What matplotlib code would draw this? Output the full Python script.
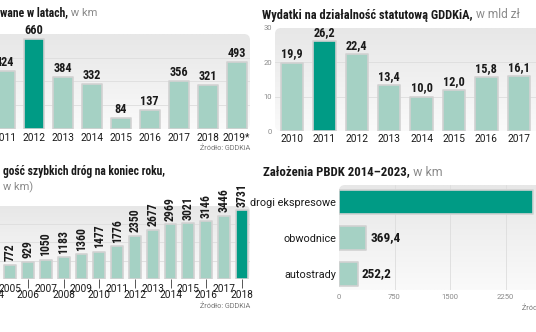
import numpy as np
import matplotlib
matplotlib.use('Agg')
import matplotlib.pyplot as plt
from matplotlib import font_manager as fm
from matplotlib.patches import FancyBboxPatch
from matplotlib.colors import LinearSegmentedColormap

# ---------------- data ----------------
p1_years = ['2011', '2012', '2013', '2014', '2015', '2016', '2017', '2018', '2019*']
p1_values = [424, 660, 384, 332, 84, 137, 356, 321, 493]
p1_highlight = '2012'

p2_years = ['2010', '2011', '2012', '2013', '2014', '2015', '2016', '2017']
p2_values = [19.9, 26.2, 22.4, 13.4, 10.0, 12.0, 15.8, 16.1]
p2_highlight = '2011'

p3_years = ['2004', '2005', '2006', '2007', '2008', '2009', '2010', '2011',
            '2012', '2013', '2014', '2015', '2016', '2017', '2018']
p3_values = [700, 772, 929, 1050, 1183, 1360, 1477, 1776, 2350, 2677, 2969,
             3021, 3146, 3446, 3731]
p3_highlight = '2018'

p4_categories = ['drogi ekspresowe', 'obwodnice', 'autostrady']
p4_values = [2618, 369.4, 252.2]
p4_highlight = 'drogi ekspresowe'
p4_ticks = [0, 750, 1500, 2250]

# ---------------- style ----------------
DARK = '#009B85'
LIGHT = '#A5D1C4'
BORDER = '#D2D2D2'
GRID = '#DDDDDD'
GREY_TXT = '#8A8A8A'
TXT = '#1A1A1A'

available = {f.name for f in fm.fontManager.ttflist}


def pick(*names):
    for n in names:
        if n in available:
            return n
    return 'DejaVu Sans'


NARROW = pick('Roboto Condensed', 'Liberation Sans Narrow', 'Open Sans Condensed',
              'DejaVu Sans Condensed', 'DejaVu Sans')
REG = pick('Roboto', 'Lato', 'Open Sans', 'DejaVu Sans')

W, H = 536, 332
fig = plt.figure(figsize=(W / 100, H / 100), dpi=100)
fig.patch.set_facecolor('white')


def add_ax(l, t, r, b):
    return fig.add_axes([l / W, 1 - b / H, (r - l) / W, (b - t) / H])


def background(ax, l, t, r, b, radius=6):
    wpx, hpx = r - l, b - t
    cmap = LinearSegmentedColormap.from_list('bg', ['#E7E7E7', '#FAFAFA'])
    grad = np.linspace(0, 1, 64).reshape(-1, 1)
    im = ax.imshow(grad, extent=[0, 1, 0, 1], transform=ax.transAxes, cmap=cmap,
                   aspect='auto', origin='upper', zorder=0, interpolation='bilinear')
    patch = FancyBboxPatch((0, 0), 1, 1,
                           boxstyle=f'round,pad=0,rounding_size={radius / wpx}',
                           mutation_aspect=wpx / hpx, transform=ax.transAxes,
                           fc='none', ec='none')
    ax.add_patch(patch)
    im.set_clip_path(patch)


def clean(ax):
    ax.patch.set_visible(False)
    for s in ax.spines.values():
        s.set_visible(False)


def px2fig(x, y):
    return x / W, 1 - y / H


def title(x, y, bold, reg, size=8.2):
    fx, fy = px2fig(x, y)
    t = fig.text(fx, fy, bold, fontsize=size, fontweight='bold', family=NARROW,
                 fontstretch='condensed', color=TXT, va='center', ha='left')
    if reg:
        r = fig.canvas.get_renderer()
        bb = t.get_window_extent(renderer=r)
        fig.text(bb.x1 / W, fy, reg, fontsize=size - 0.3, family=REG,
                 color=GREY_TXT, va='center', ha='left')


def source(x, y, ha='right'):
    fx, fy = px2fig(x, y)
    fig.text(fx, fy, 'Źródło: GDDKiA', fontsize=5.2, family=REG, color='#777777',
             ha=ha, va='center')


YEAR_SIZE = 7.3

# ---------------- panel 1 ----------------
l, t, r, b = -25, 34, 250, 129
ax1 = add_ax(l, t, r, b)
clean(ax1)
background(ax1, l, t, r, b)
x0, dx = 4.7, 29.0
x1 = np.arange(len(p1_years))
c1 = [DARK if y == p1_highlight else LIGHT for y in p1_years]
ax1.bar(x1, p1_values, width=0.7, color=c1, edgecolor=BORDER, linewidth=1.2,
        joinstyle='round', zorder=3)
for v in [175, 350, 525]:
    ax1.axhline(v, color=GRID, lw=0.6, zorder=1)
for xi, v in zip(x1, p1_values):
    ax1.annotate(f'{v}', (xi, v), xytext=(0, 1.5), textcoords='offset points',
                 ha='center', va='bottom', fontsize=8.8, fontweight='bold',
                 family=NARROW, fontstretch='condensed', color=TXT, zorder=4)
ax1.set_xticks(x1, p1_years)
ax1.set_yticks([])
ax1.tick_params(axis='x', length=0, pad=3, labelsize=YEAR_SIZE, labelcolor=TXT)
for lab in ax1.get_xticklabels():
    lab.set_family(REG)
ax1.set_xlim((l - x0) / dx, (r - x0) / dx)
ax1.set_ylim(0, 700)
title(0.5, 13, 'wane w latach,', ' w km', size=8.4)
source(250, 149)

# ---------------- panel 2 ----------------
l, t, r, b = 275, 28, 545, 131
ax2 = add_ax(l, t, r, b)
clean(ax2)
background(ax2, l, t, r, b)
x0, dx = 292.0, 32.4
x2 = np.arange(len(p2_years))
c2 = [DARK if y == p2_highlight else LIGHT for y in p2_years]
ax2.bar(x2, p2_values, width=0.69, color=c2, edgecolor=BORDER, linewidth=1.2,
        joinstyle='round', zorder=3)
for v in [10, 20]:
    ax2.axhline(v, color=GRID, lw=0.6, zorder=1)
for xi, v in zip(x2, p2_values):
    ax2.annotate(f'{v:.1f}'.replace('.', ','), (xi, v), xytext=(0, 1.5),
                 textcoords='offset points', ha='center', va='bottom', fontsize=8.8,
                 fontweight='bold', family=NARROW, fontstretch='condensed',
                 color=TXT, zorder=4)
ax2.set_xticks(x2, p2_years)
ax2.set_yticks([0, 10, 20, 30])
ax2.tick_params(axis='x', length=0, pad=2.5, labelsize=YEAR_SIZE, labelcolor=TXT)
ax2.tick_params(axis='y', length=0, pad=2, labelsize=5.5, labelcolor=GREY_TXT)
for lab in ax2.get_xticklabels() + ax2.get_yticklabels():
    lab.set_family(REG)
ax2.set_xlim((l - x0) / dx, (r - x0) / dx)
ax2.set_ylim(0, 30)
title(262, 15, 'Wydatki na działalność statutową GDDKiA,', ' w mld zł', size=8.9)

# ---------------- panel 3 ----------------
l, t, r, b = -25, 205.5, 250, 279
ax3 = add_ax(l, t, r, b)
clean(ax3)
background(ax3, l, t, r, b)
x0, dx = -7.5, 17.8
x3 = np.arange(len(p3_years))
c3 = [DARK if y == p3_highlight else LIGHT for y in p3_years]
ax3.bar(x3, p3_values, width=0.66, color=c3, edgecolor=BORDER, linewidth=1.2,
        joinstyle='round', zorder=3)
for v in [1000, 2000, 3000]:
    ax3.axhline(v, color=GRID, lw=0.6, zorder=1)
for xi, v in zip(x3, p3_values):
    ax3.annotate(f'{v}', (xi, v), xytext=(0, 2.5), textcoords='offset points',
                 ha='center', va='bottom', rotation=90, fontsize=8.5,
                 fontweight='bold', family=NARROW, fontstretch='condensed',
                 color=TXT, zorder=4)
odd = [i for i, y in enumerate(p3_years) if int(y) % 2 == 1]
even = [i for i, y in enumerate(p3_years) if int(y) % 2 == 0]
ax3.set_xticks(odd, [p3_years[i] for i in odd])
ax3.set_xticks(even, [p3_years[i] for i in even], minor=True)
ax3.set_yticks([])
ax3.tick_params(axis='x', which='major', length=0, pad=3.6, labelsize=YEAR_SIZE,
                labelcolor=TXT)
ax3.tick_params(axis='x', which='minor', length=6.2, width=0.7, color='#555555',
                pad=1.8, labelsize=YEAR_SIZE, labelcolor=TXT)
for lab in ax3.get_xticklabels() + ax3.get_xticklabels(minor=True):
    lab.set_family(REG)
ax3.set_xlim((l - x0) / dx, (r - x0) / dx)
ax3.set_ylim(0, 4000)
title(2.7, 172, 'gość szybkich dróg na koniec roku,', None, size=8.3)
fig.text(*px2fig(3, 187), 'w km)', fontsize=7.9, family=REG, color=GREY_TXT,
         ha='left', va='center')
source(250, 306.7)

# ---------------- panel 4 ----------------
l, t, r, b = 339, 185, 561, 290
ax4 = add_ax(l, t, r, b)
clean(ax4)
background(ax4, l, t, r, b)
y4 = np.arange(len(p4_categories))
c4 = [DARK if c == p4_highlight else LIGHT for c in p4_categories]
ax4.barh(y4, p4_values, height=0.67, color=c4, edgecolor=BORDER, linewidth=1.2,
         joinstyle='round', zorder=3)
for v in p4_ticks[1:]:
    ax4.axvline(v, color=GRID, lw=0.6, zorder=1)
for yi, v in zip(y4, p4_values):
    ax4.annotate(f'{v:.1f}'.replace('.', ','), (v, yi), xytext=(3, 0),
                 textcoords='offset points', ha='left', va='center', fontsize=9.5,
                 fontweight='bold', family=NARROW, fontstretch='condensed',
                 color=TXT, zorder=4)
ax4.set_yticks(y4, p4_categories)
ax4.set_xticks(p4_ticks, [str(v) for v in p4_ticks])
ax4.tick_params(axis='y', length=0, pad=2, labelsize=7.8, labelcolor=TXT)
ax4.tick_params(axis='x', length=0, pad=3, labelsize=5.5, labelcolor=GREY_TXT)
for lab in ax4.get_xticklabels() + ax4.get_yticklabels():
    lab.set_family(REG)
ax4.set_xlim(0, 3000)
ax4.set_ylim((b - 202) / 36.0, (t - 202) / 36.0)
title(263, 172, 'Założenia PBDK 2014–2023,', ' w km', size=9.2)
source(522, 309, ha='left')

fig.savefig('out.png', dpi=100, facecolor='white')
